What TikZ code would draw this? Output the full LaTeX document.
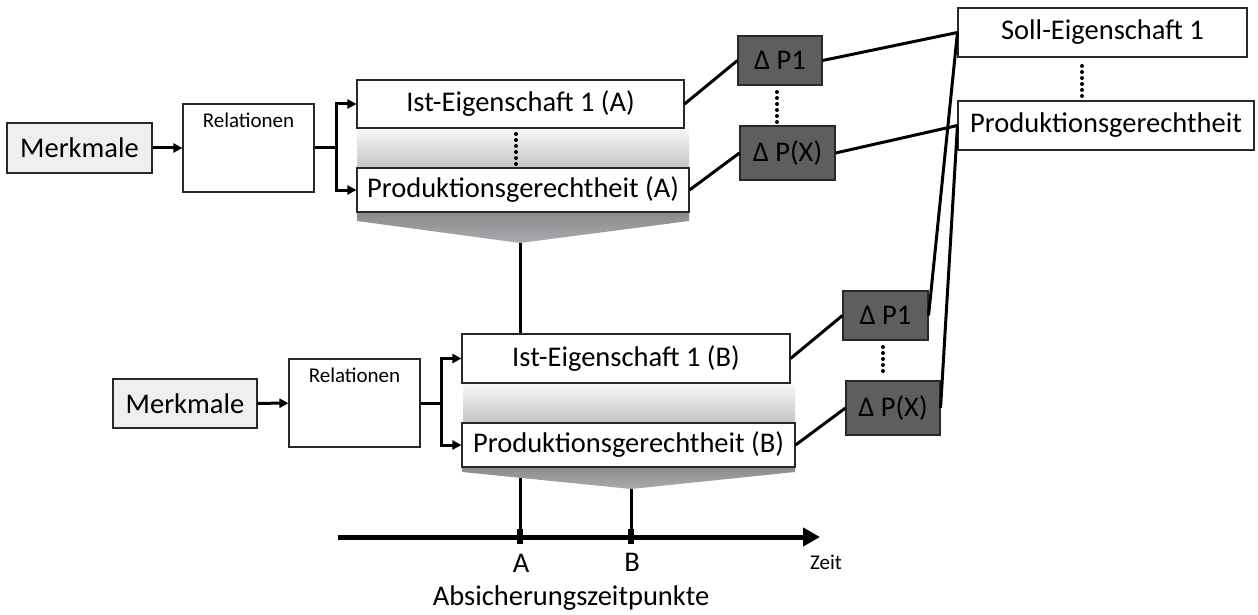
\documentclass[tikz,border=0pt]{standalone}
\usepackage{fontspec}
\setmainfont{Carlito}
\usetikzlibrary{arrows.meta}

\definecolor{lightfill}{RGB}{239,239,239}
\definecolor{deltafill}{RGB}{94,94,97}
\definecolor{boxline}{RGB}{40,40,40}
\definecolor{bandtop}{RGB}{248,248,248}
\definecolor{bandbot}{RGB}{196,196,198}
\definecolor{funtop}{RGB}{138,138,142}
\definecolor{funbot}{RGB}{172,172,175}

\tikzset{
  bigtext/.style={font=\fontsize{28.5}{30}\selectfont},
  smalltext/.style={font=\fontsize{21}{23}\selectfont},
  box/.style={draw=boxline, line width=1.1pt, fill=white, inner sep=0pt, bigtext},
  featbox/.style={box, fill=lightfill},
  relbox/.style={box, fill=white},
  deltabox/.style={box, fill=deltafill},
  conn/.style={line width=3pt, black},
  arr/.style={line width=3pt, black, -{Triangle[length=9pt,width=9pt]}},
  dotcol/.style={line width=4pt, line cap=round, dash pattern=on 0pt off 6pt},
  band/.style={top color=bandtop, bottom color=bandbot},
  funnel/.style={top color=funtop, bottom color=funbot}
}

\begin{document}
\begin{tikzpicture}[x=1pt,y=-1pt]
\useasboundingbox (0,0) rectangle (1258,615);

% ---- time axis and the two check points ----
\coordinate (tA) at (520,537);
\coordinate (tB) at (631,537);
\coordinate (tStart) at (338,537);
\coordinate (tEnd) at (820,537);
\coordinate (apexA) at (520,243);
\coordinate (apexB) at (631,489);

\draw[conn] (apexA) -- (tA);
\draw[conn] (apexB) -- (tB);
\draw[line width=5pt, -{Triangle[length=17pt,width=18pt]}] (tStart) -- (tEnd);
\fill ([xshift=-3.2pt,yshift=8pt]tA) rectangle ([xshift=3.2pt,yshift=-7pt]tA);
\fill ([xshift=-3.2pt,yshift=8pt]tB) rectangle ([xshift=3.2pt,yshift=-7pt]tB);
\node[bigtext] (lA) at (521,563) {A};
\node[bigtext] (lB) at (632,562) {B};
\node[smalltext] (lZeit) at (826,562) {Zeit};
\node[bigtext] (lAbs) at (571,598) {Absicherungszeitpunkte};

% ---- stage A ----
\shade[band] (357,128) rectangle (689,168);
\shade[funnel] (357,212) -- (357,221) -- (520,243) -- (689,221) -- (689,212) -- cycle;
\node[featbox, minimum width=145pt, minimum height=50pt] (MA) at (79.5,148) {Merkmale};
\node[relbox, minimum width=131pt, minimum height=88pt,
      label={[smalltext, anchor=north, yshift=-6pt]north:Relationen}] (RA) at (248.5,148) {};
\node[box, minimum width=327pt, minimum height=48pt] (IA) at (520.5,104) {Ist-Eigenschaft 1 (A)};
\node[box, minimum width=332pt, minimum height=44pt] (PA) at (523,190) {Produktionsgerechtheit (A)};
\draw[dotcol] (516,134) -- (516,164);

\draw[arr] (MA) -- (RA);
\coordinate (forkA) at (336,148);
\draw[conn] (RA.east) -- (forkA);
\draw[arr] (forkA) |- (IA.west);
\draw[arr] (forkA) |- (PA.west);

% ---- stage B ----
\shade[band] (463,383) rectangle (795,423);
\shade[funnel] (462,467) -- (462,472) -- (631,489) -- (795,472) -- (795,467) -- cycle;
\node[featbox, minimum width=144pt, minimum height=49pt] (MB) at (185,403.5) {Merkmale};
\node[relbox, minimum width=131pt, minimum height=88pt,
      label={[smalltext, anchor=north, yshift=-6pt]north:Relationen}] (RB) at (354.5,403) {};
\node[box, minimum width=328pt, minimum height=49pt] (IB) at (626,358.5) {Ist-Eigenschaft 1 (B)};
\node[box, minimum width=333pt, minimum height=44pt] (PB) at (628.5,445) {Produktionsgerechtheit (B)};

\draw[arr] (MB) -- (RB);
\coordinate (forkB) at (441,403);
\draw[conn] (RB.east) -- (forkB);
\draw[arr] (forkB) |- (IB.west);
\draw[arr] (forkB) |- (PB.west);

% ---- deviations ----
\node[deltabox, minimum width=84pt, minimum height=49pt] (DA1) at (780,60.5) {Δ P1};
\node[deltabox, minimum width=95pt, minimum height=54pt] (DAX) at (787.5,153) {Δ P(X)};
\draw[dotcol] (777,92) -- (777,122);
\node[deltabox, minimum width=85pt, minimum height=49pt] (DB1) at (885.5,315.5) {Δ P1};
\node[deltabox, minimum width=94pt, minimum height=54pt] (DBX) at (893,408) {Δ P(X)};
\draw[dotcol] (883,347) -- (883,377);

% ---- target properties ----
\node[box, minimum width=289pt, minimum height=49pt] (S1) at (1102.5,32.5) {Soll-Eigenschaft 1};
\node[box, minimum width=296pt, minimum height=49pt] (SP) at (1106,125.5) {Produktionsgerechtheit};
\draw[dotcol] (1082,66) -- (1082,96);

% ---- connectors ----
\draw[conn] (IA.east) -- (DA1.west);
\draw[conn] (PA.east) -- (DAX.west);
\draw[conn] (DA1.east) -- (S1.west);
\draw[conn] (DAX.east) -- (SP.west);
\draw[conn] (IB.east) -- (DB1.west);
\draw[conn] (PB.east) -- (DBX.west);
\draw[conn] (DB1.east) -- (S1.west);
\draw[conn] (DBX.east) -- (SP.west);
\end{tikzpicture}
\end{document}
